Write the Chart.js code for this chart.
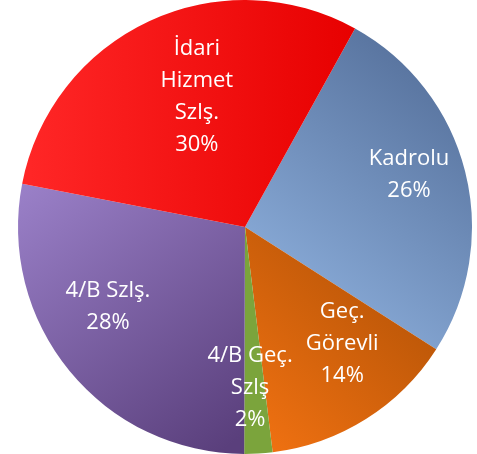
<!DOCTYPE html>
<html>
<head>
<meta charset="utf-8">
<script src="https://cdn.jsdelivr.net/npm/chart.js@4"></script>
<style>
  html, body { margin: 0; padding: 0; background: #ffffff; }
  #wrap { width: 477px; height: 454px; position: relative; }
</style>
</head>
<body>
<div id="wrap"><canvas id="c" width="477" height="454"></canvas></div>
<script>
const categories = ["Kadrolu", "Geç. Görevli", "4/B Geç. Szlş", "4/B Szlş.", "İdari Hizmet Szlş."];
const labelLines = [["Kadrolu"], ["Geç.", "Görevli"], ["4/B Geç.", "Szlş"], ["4/B Szlş."], ["İdari", "Hizmet", "Szlş."]];
const percentValues = [26, 14, 2, 28, 30];

// label placement styling (angle offset in degrees from slice middle, radius fraction)
const labelAngleOffset = [-3.4, -7.5, 1.6, 9.1, 4.7];
const labelRadiusFrac = [0.758, 0.67, 0.709, 0.699, 0.611];

function makeFill(ctx, idx) {
  const c = ctx.chart.ctx;
  let g;
  if (idx === 0) {
    g = c.createLinearGradient(290, 310, 470, 80);
    g.addColorStop(0, "#8badda");
    g.addColorStop(1, "#55709b");
  } else if (idx === 1) {
    g = c.createLinearGradient(420, 290, 270, 445);
    g.addColorStop(0, "#b85507");
    g.addColorStop(1, "#ee7011");
  } else if (idx === 2) {
    return "#7ba43c";
  } else if (idx === 3) {
    g = c.createLinearGradient(30, 180, 230, 445);
    g.addColorStop(0, "#9a80c8");
    g.addColorStop(1, "#5a3f7c");
  } else {
    g = c.createLinearGradient(30, 100, 357, 100);
    g.addColorStop(0, "#ff2626");
    g.addColorStop(1, "#e70000");
  }
  return g;
}

const labelPlugin = {
  id: "sliceLabels",
  afterDatasetsDraw(chart) {
    const ctx = chart.ctx;
    const meta = chart.getDatasetMeta(0);
    ctx.save();
    ctx.fillStyle = "#ffffff";
    ctx.font = "22px 'Open Sans'";
    ctx.textAlign = "center";
    ctx.textBaseline = "middle";
    const lh = 32;
    meta.data.forEach((arc, i) => {
      const p = arc.getProps(["x", "y", "startAngle", "endAngle", "outerRadius"], true);
      const mid = (p.startAngle + p.endAngle) / 2 + labelAngleOffset[i] * Math.PI / 180;
      const r = p.outerRadius * labelRadiusFrac[i];
      const cx = p.x + Math.cos(mid) * r;
      const cy = p.y + Math.sin(mid) * r;
      const lines = labelLines[i].concat([percentValues[i] + "%"]);
      const top = cy - (lines.length - 1) * lh / 2;
      lines.forEach((t, k) => ctx.fillText(t, cx, top + k * lh));
    });
    ctx.restore();
  }
};

new Chart(document.getElementById("c"), {
  type: "pie",
  data: {
    labels: categories,
    datasets: [{
      data: percentValues,
      backgroundColor: (ctx) => makeFill(ctx, ctx.dataIndex),
      borderWidth: 0
    }]
  },
  options: {
    responsive: false,
    animation: false,
    rotation: 29,
    layout: { padding: { left: 13, right: 0, top: 0, bottom: 0 } },
    plugins: {
      legend: { display: false },
      tooltip: { enabled: false }
    }
  },
  plugins: [labelPlugin]
});
</script>
</body>
</html>
